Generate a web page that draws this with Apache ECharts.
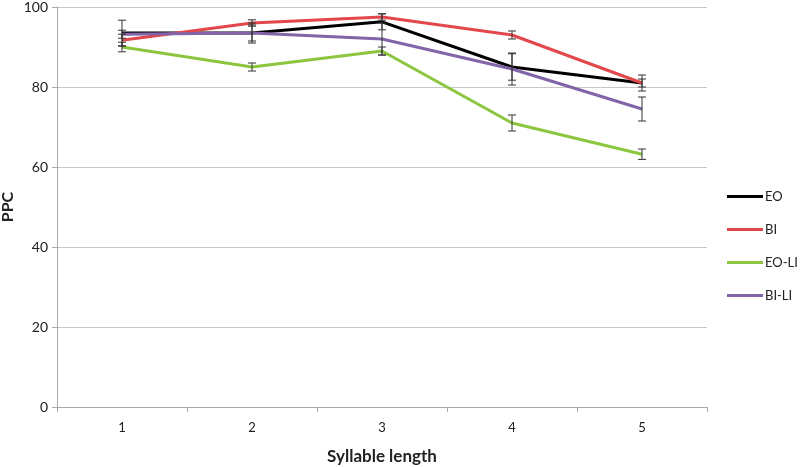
<!DOCTYPE html>
<html><head><meta charset="utf-8">
<script src="https://cdn.jsdelivr.net/npm/echarts@6/dist/echarts.min.js"></script>
<style>html,body{margin:0;padding:0;background:#fff}#c{width:800px;height:467px}</style>
</head><body><div id="c"></div>
<script>
const categories = ['1','2','3','4','5'];
const seriesNames = ['EO','BI','EO-LI','BI-LI'];
const EO = [93.5, 93.5, 96.3, 85.0, 81.0];
const BI = [91.7, 96.0, 97.5, 93.0, 81.0];
const EO_LI = [90.0, 85.0, 89.0, 71.0, 63.2];
const BI_LI = [93.2, 93.5, 92.0, 84.5, 74.5];
const EO_err = [3.2, 2.5, 2.0, 3.3, 2.0];
const BI_err = [1.5, 0.8, 0.8, 1.0, 1.0];
const EO_LI_err = [1.2, 1.0, 1.0, 2.0, 1.3];
const BI_LI_err = [1.0, 2.0, 4.0, 4.0, 3.0];
const yTicks = [0, 20, 40, 60, 80, 100];

const values = [EO, BI, EO_LI, BI_LI];
const errs = [EO_err, BI_err, EO_LI_err, BI_LI_err];
const colors = ['#000000', '#e2474b', '#8cc63f', '#8264a8'];
const font = 'Lato, "Open Sans", sans-serif';

const chart = echarts.init(document.getElementById('c'));
const series = [];
values.forEach((v, i) => {
  series.push({
    name: seriesNames[i], type: 'line', data: v, symbol: 'none',
    lineStyle: {color: colors[i], width: 3}, itemStyle: {color: colors[i]}, z: 2
  });
});
values.forEach((v, i) => {
  series.push({
    type: 'custom', z: 5, silent: true,
    data: v.map((y, k) => [k, y - errs[i][k], y + errs[i][k]]),
    renderItem: function (params, api) {
      const lo = api.coord([api.value(0), api.value(1)]);
      const hi = api.coord([api.value(0), api.value(2)]);
      const w = 4;
      const st = {stroke: '#333', lineWidth: 1};
      return {type: 'group', children: [
        {type: 'line', shape: {x1: lo[0], y1: lo[1], x2: hi[0], y2: hi[1]}, style: st},
        {type: 'line', shape: {x1: lo[0]-w, y1: lo[1], x2: lo[0]+w, y2: lo[1]}, style: st},
        {type: 'line', shape: {x1: hi[0]-w, y1: hi[1], x2: hi[0]+w, y2: hi[1]}, style: st}
      ]};
    }
  });
});

chart.setOption({
  animation: false,
  textStyle: {fontFamily: font},
  grid: {left: 57, top: 7, right: 93, bottom: 60, outerBoundsMode: 'none', containLabel: false},
  legend: {
    data: seriesNames.map((n, i) => ({name: n, icon: 'rect', itemStyle: {color: colors[i]}})),
    orient: 'vertical', left: 722, top: 185, itemWidth: 36, itemHeight: 3, itemGap: 20,
    textStyle: {fontSize: 13, color: '#222', fontFamily: font, padding: [0,0,0,-3]}
  },
  xAxis: {
    type: 'category', data: categories, boundaryGap: true,
    name: 'Syllable length', nameLocation: 'middle', nameGap: 41, nameMoveOverlap: false,
    nameTextStyle: {fontSize: 17, fontWeight: 'bold', color: '#222', fontFamily: font},
    axisLine: {lineStyle: {color: '#aaa'}},
    axisTick: {show: true, length: 5, lineStyle: {color: '#aaa'}},
    axisLabel: {fontSize: 13, color: '#222', margin: 14}
  },
  yAxis: {
    type: 'value', min: yTicks[0], max: yTicks[yTicks.length-1], interval: 20,
    name: 'PPC', nameLocation: 'middle', nameGap: 41, nameRotate: 90, nameMoveOverlap: false,
    nameTextStyle: {fontSize: 16, fontWeight: 'bold', color: '#222', fontFamily: font},
    axisLine: {show: true, lineStyle: {color: '#aaa'}},
    axisTick: {show: true, length: 5, lineStyle: {color: '#aaa'}},
    axisLabel: {fontSize: 14, color: '#222', margin: 9},
    splitLine: {lineStyle: {color: '#c8c8c8'}}
  },
  series: series
});
</script></body></html>
